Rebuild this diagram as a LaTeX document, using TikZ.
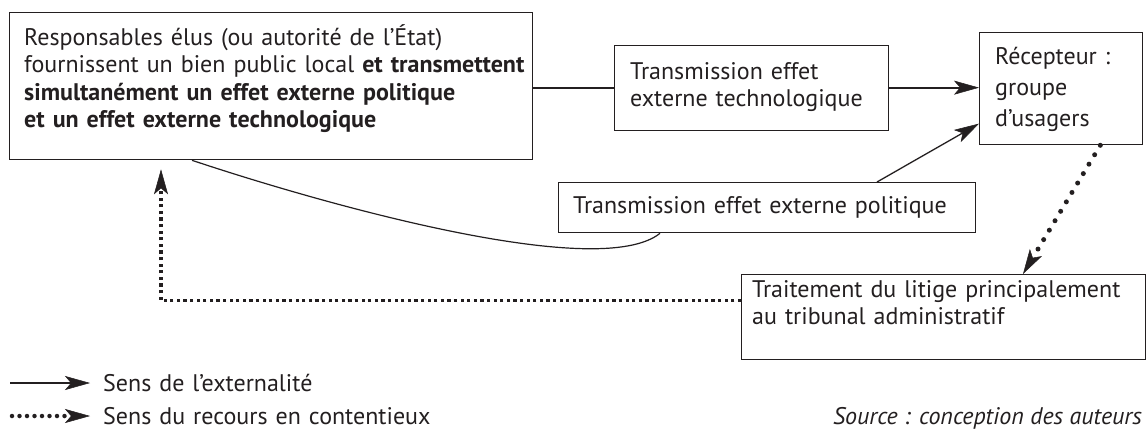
\documentclass[tikz,border=0pt]{standalone}
\usepackage{fontspec}
\setmainfont{PT Sans}
\usetikzlibrary{arrows.meta}
\definecolor{ink}{HTML}{231F20}
\begin{document}
\begin{tikzpicture}[x=1pt,y=-1pt,
  myhead/.tip={Stealth[length=25pt,width=14pt,inset=6pt,line width=0.5pt]},
  box/.style={draw=ink, line width=1.3pt, inner sep=0pt, anchor=north west},
  txt/.style={inner sep=0pt, anchor=base west, align=left, text width=#1, text=ink,
    font=\fontsize{24}{27.5}\selectfont},
  thickconn/.style={draw=ink, line width=2pt},
  thinconn/.style={draw=ink, line width=1.3pt},
  bigdots/.style={draw=ink, line width=5pt, line cap=round, dash pattern=on 0pt off 11pt},
  legdots/.style={draw=ink, line width=4.5pt, line cap=round, dash pattern=on 0pt off 7.5pt},
  smalldots/.style={draw=ink, line width=3.3pt, dash pattern=on 3.3pt off 3.3pt}
]
\useasboundingbox (0,0) rectangle (1147,432);

% boxes
\node[box, minimum width=523pt, minimum height=147pt] (b1) at (9,12) {};
\node[box, minimum width=274pt, minimum height=85pt] (b2) at (614,45) {};
\node[box, minimum width=163pt, minimum height=112pt] (b3) at (979,32) {};
\node[box, minimum width=417pt, minimum height=50pt] (b4) at (558,182) {};
\node[box, minimum width=404pt, minimum height=85pt] (b5) at (741,274) {};

% texts
\node[txt=510pt] (t1) at (24,45) {Responsables élus (ou autorité de l’État)\\
  fournissent un bien public local \textbf{et transmettent}\\
  \textbf{simultanément un effet externe politique}\\
  \textbf{et un effet externe technologique}};
\node[txt=260pt] (t2) at (630,79) {Transmission effet\\ externe technologique};
\node[txt=150pt, font=\fontsize{24}{31}\selectfont] (t3) at (995,64) {Récepteur~:\\ groupe\\ d’usagers};
\node[txt=400pt] (t4) at (573,213) {Transmission effet externe politique};
\node[txt=395pt] (t5) at (752,297) {Traitement du litige principalement\\ au tribunal administratif};

% connectors
\draw[thickconn] ([yshift=-1.5pt]b1.east) -- ([yshift=0.5pt]b2.west);
\draw[thickconn, -myhead] ([yshift=0.5pt]b2.east) -- ([yshift=1pt]b3.west);
\draw[thinconn, -myhead] ([xshift=319pt]b4.north west) -- ([yshift=-35pt]b3.west);
\draw[thinconn, line width=1.2pt] ([xshift=183pt]b1.south west) .. controls +(138,46) and +(-60,48) .. ([xshift=102pt]b4.south west);
\draw[bigdots, -myhead] ([xshift=-43pt]b3.south east) -- ([xshift=282pt]b5.north west);
\draw[smalldots, -myhead] ([yshift=16.5pt]b5.west) -| ([xshift=152pt,yshift=-9pt]b1.south west);

% legend
\coordinate (l1s) at (10,383);
\coordinate (l1e) at (90,383);
\coordinate (l2s) at (12,416);
\coordinate (l2e) at (90,416);
\draw[thickconn, -myhead] (l1s) -- (l1e);
\draw[legdots, -myhead] (l2s) -- (l2e);
\node[txt=400pt] (leg1) at (103,391) {Sens de l’externalité};
\node[txt=400pt] (leg2) at (103,424) {Sens du recours en contentieux};
\node[inner sep=0pt, anchor=base east, text=ink, font=\fontsize{24}{27.5}\selectfont\itshape] (src) at (1142,424) {Source : conception des auteurs};
\end{tikzpicture}
\end{document}
